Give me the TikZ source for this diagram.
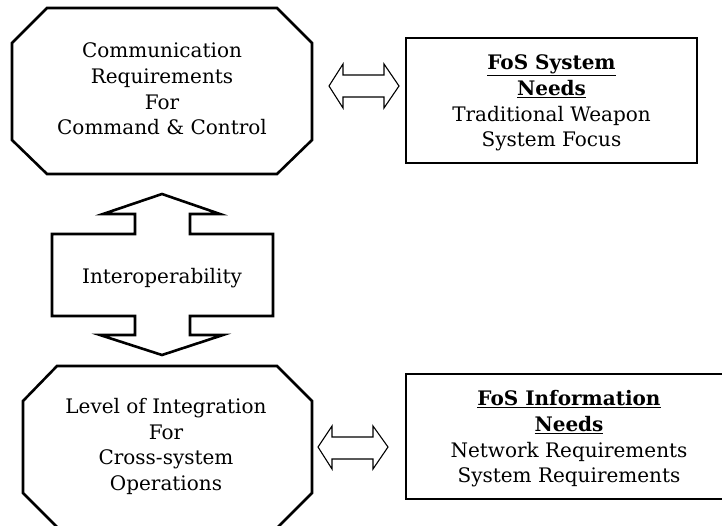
\documentclass[tikz,border=0pt]{standalone}
\usepackage{fontspec}
\setmainfont{DejaVu Serif}
\newcommand{\ulb}[1]{\textbf{\underline{#1}}}
\begin{document}
\begin{tikzpicture}[x=1pt,y=-1pt,
  shapeline/.style={draw=black,line width=2.6pt,line join=miter},
  thinarrow/.style={draw=black,line width=1.1pt,line join=miter,fill=white},
  boxline/.style={draw=black,line width=2.8pt},
  txt/.style={align=center,font=\fontsize{20}{25.7}\selectfont,inner sep=0pt}]
\useasboundingbox (0,0) rectangle (722,525);
\clip (0,0) rectangle (722,525);
% top octagon
\draw[shapeline] (47,8) -- (277,8) -- (312,43) -- (312,140) -- (277,174) -- (47,174) -- (12,140) -- (12,43) -- cycle;
\node[txt] (comm) at (162,89) {Communication\\Requirements\\For\\Command \& Control};
% top double arrow
\draw[thinarrow] (329,86) -- (343,64) -- (343,75) -- (384,75) -- (384,64) -- (399,86) -- (384,108) -- (384,97) -- (343,97) -- (343,108) -- cycle;
% top right box
\draw[boxline] (406,38) rectangle (697,163);
\node[txt] (fossys) at (551.5,103) {\ulb{FoS System}\\\ulb{Needs}\\Traditional Weapon\\System Focus};
% interoperability arrow
\draw[shapeline] (162,194) -- (220,214) -- (190,214) -- (190,234) -- (273,234) -- (273,316) -- (190,316) -- (190,335) -- (223,335) -- (162,355) -- (100,335) -- (135,335) -- (135,316) -- (52,316) -- (52,234) -- (135,234) -- (135,214) -- (103,214) -- cycle;
\node[txt] (inter) at (162,278) {Interoperability};
% bottom octagon
\draw[shapeline] (57,366) -- (277,366) -- (312,401) -- (312,493) -- (277,528) -- (58,528) -- (23,493) -- (23,401) -- cycle;
\node[txt] (level) at (166,446.5) {Level of Integration\\For\\Cross-system\\Operations};
% bottom double arrow
\draw[thinarrow] (318,447) -- (332,426) -- (332,437) -- (373,437) -- (373,426) -- (388,447) -- (373,469) -- (373,459) -- (332,459) -- (332,469) -- cycle;
% bottom right box
\draw[boxline] (406,374) rectangle (740,499);
\node[txt] (fosinf) at (569,439) {\ulb{FoS Information}\\\ulb{Needs}\\Network Requirements\\System Requirements};
\end{tikzpicture}
\end{document}
